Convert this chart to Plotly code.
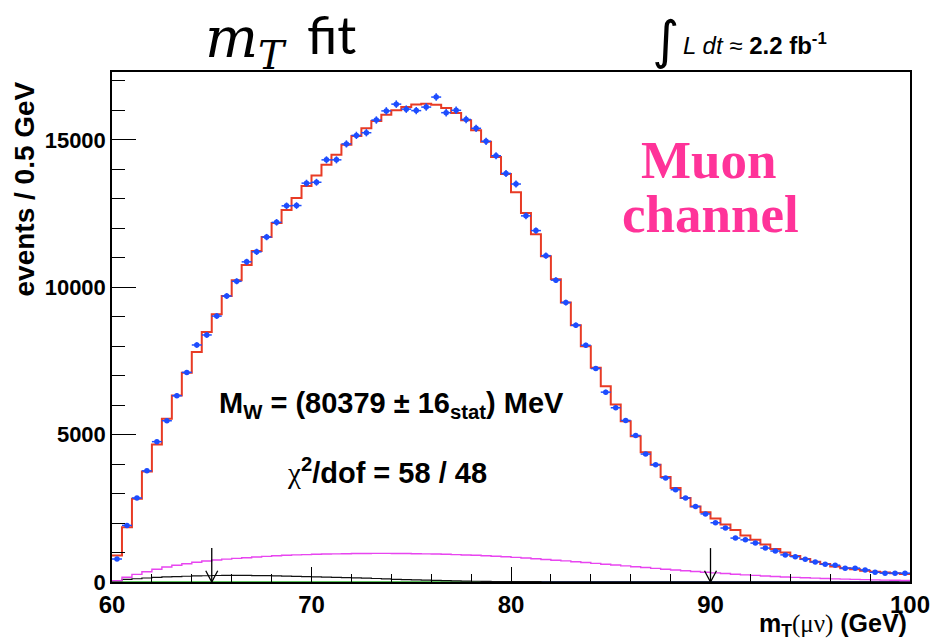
import numpy as np
import plotly.graph_objects as go

# ---- binning: 0.5 GeV bins from 60 to 100 GeV ----
bin_lo, bin_hi, bin_w = 60.0, 100.0, 0.5

# observed events per bin
data_counts = [
    780, 1920, 2850, 3770, 4760, 5470, 6320, 7110, 8040, 8380,
    9020, 9700, 10200, 10860, 11200, 11700, 12200, 12760, 12770, 13530,
    13560, 14320, 14320, 14860, 15150, 15240, 15670, 15980, 16210, 16040,
    15990, 16110, 16450, 15920, 16000, 15690, 15390, 14950, 14460, 13860,
    13500, 12420, 11920, 11070, 10240, 9480, 8710, 8030, 7240, 6440,
    5910, 5480, 4970, 4340, 3980, 3530, 3130, 2850, 2560, 2310,
    2010, 1830, 1490, 1430, 1320, 1150, 1050, 920, 860, 770,
    680, 600, 570, 470, 470, 410, 330, 300, 300, 300,
]

# best-fit template (signal + backgrounds)
fit_counts = [
    900, 1860, 2820, 3750, 4660, 5540, 6330, 7100, 7800, 8480,
    9080, 9700, 10240, 10750, 11230, 11700, 12180, 12620, 13030, 13430,
    13790, 14150, 14490, 14830, 15130, 15390, 15640, 15850, 16000, 16110,
    16200, 16220, 16190, 16080, 15910, 15660, 15320, 14930, 14420, 13840,
    13220, 12520, 11800, 11050, 10270, 9480, 8710, 8000, 7270, 6640,
    6020, 5450, 4940, 4400, 3980, 3560, 3190, 2850, 2560, 2370,
    2150, 1950, 1760, 1580, 1430, 1270, 1120, 1000, 880, 780,
    690, 610, 530, 470, 430, 385, 345, 320, 300, 275,
]

# magenta background component
bkg_magenta = [
    45, 160, 260, 350, 430, 510, 570, 620, 670, 710,
    745, 775, 800, 825, 850, 870, 890, 905, 920, 930,
    940, 948, 955, 960, 965, 968, 970, 970, 968, 965,
    960, 955, 948, 940, 930, 918, 905, 890, 872, 855,
    835, 812, 790, 765, 740, 715, 688, 660, 632, 604,
    575, 547, 518, 490, 462, 435, 408, 382, 357, 332,
    308, 286, 264, 243, 224, 205, 188, 172, 157, 143,
    130, 118, 107, 97, 88, 79, 71, 64, 58, 52,
]

# black background component
bkg_black = [
    40, 90, 110, 135, 160, 175, 185, 195, 205, 212,
    220, 225, 225, 222, 218, 215, 210, 200, 190, 180,
    172, 165, 157, 150, 140, 130, 118, 105, 92, 82,
    72, 62, 52, 45, 38, 32, 26, 21, 17, 14,
    12, 11, 10, 9, 8, 8, 7, 7, 6, 6,
    5, 5, 5, 4, 4, 4, 4, 3, 3, 3,
    3, 3, 3, 2, 2, 2, 2, 2, 2, 2,
    2, 2, 2, 2, 2, 2, 2, 2, 2, 2,
]

# small components lying along the axis
bkg_green_edges = [60, 70, 80, 81]
bkg_green = [12, 10, 8]
bkg_blue_edges = [60, 80, 100]
bkg_blue = [6, 5]

# fit range markers
fit_window = [65, 90]
arrow_top = 1150

edges = np.arange(bin_lo, bin_hi + bin_w / 2, bin_w)
centers = edges[:-1] + bin_w / 2
data = np.array(data_counts, dtype=float)


def step_xy(edge_list, vals):
    return list(edge_list), list(vals) + [vals[-1]]


# ---- plot frame in pixels ----
W, H = 930, 643
L_PX, R_PX, T_PX, B_PX = 112, 910, 72, 582
Y_MAX = 17300


def px(x):
    return (x - L_PX) / (R_PX - L_PX)


def py(y):
    return (B_PX - y) / (B_PX - T_PX)


fig = go.Figure()

sx, sy = step_xy(bkg_blue_edges, bkg_blue)
fig.add_trace(go.Scatter(x=sx, y=sy, mode="lines", line=dict(color="#4a6fd0", width=1.5, shape="hv"),
                         hoverinfo="skip", showlegend=False))
sx, sy = step_xy(bkg_green_edges, bkg_green)
fig.add_trace(go.Scatter(x=sx, y=sy, mode="lines", line=dict(color="#58c058", width=1.2, shape="hv"),
                         hoverinfo="skip", showlegend=False))
sx, sy = step_xy(edges, bkg_black)
fig.add_trace(go.Scatter(x=sx, y=sy, mode="lines", line=dict(color="#111111", width=1.2, shape="hv"),
                         hoverinfo="skip", showlegend=False))
sx, sy = step_xy(edges, bkg_magenta)
fig.add_trace(go.Scatter(x=sx, y=sy, mode="lines", line=dict(color="#e845f0", width=1.4, shape="hv"),
                         hoverinfo="skip", showlegend=False))

# fit-range arrows (open V heads)
head_dx, head_dy = 0.3, 380
for xa in fit_window:
    fig.add_trace(go.Scatter(x=[xa, xa, None, xa - head_dx, xa, xa + head_dx],
                             y=[arrow_top, 0, None, head_dy, 0, head_dy],
                             mode="lines", line=dict(color="black", width=1.3),
                             hoverinfo="skip", showlegend=False))

# fit histogram
sx, sy = step_xy(edges, fit_counts)
fig.add_trace(go.Scatter(x=sx, y=sy, mode="lines", line=dict(color="#e83b25", width=2, shape="hv"),
                         hoverinfo="skip", showlegend=False))

# data points with statistical errors
fig.add_trace(go.Scatter(
    x=centers, y=data, mode="markers",
    marker=dict(color="#1d4dff", size=5.5, symbol="circle"),
    error_x=dict(type="constant", value=bin_w / 2, color="#1d4dff", thickness=1.5, width=0),
    error_y=dict(type="data", array=np.sqrt(data), color="#1d4dff", thickness=1.5, width=0),
    showlegend=False,
))

SANS = "Liberation Sans, Arial, sans-serif"

fig.update_layout(
    width=W, height=H,
    margin=dict(l=L_PX, r=W - R_PX, t=T_PX, b=H - B_PX, pad=0, autoexpand=False),
    paper_bgcolor="white", plot_bgcolor="white",
    xaxis=dict(range=[bin_lo, bin_hi], showgrid=False, zeroline=False, automargin=False,
               showline=True, linecolor="black", linewidth=1.5, mirror=True,
               ticks="inside", ticklen=15, tickwidth=1.3, tickcolor="black",
               tickvals=[60, 70, 80, 90, 100], ticktext=["60", "70", "80", "90", "100"],
               ticklabeloverflow="allow",
               minor=dict(ticks="inside", ticklen=8, tickwidth=1.2, tickcolor="black", dtick=2, tick0=60, showgrid=False),
               tickfont=dict(family=SANS, size=24, color="black", weight="bold")),
    yaxis=dict(range=[0, Y_MAX], showgrid=False, zeroline=False, automargin=False,
               showline=True, linecolor="black", linewidth=1.5, mirror=True,
               ticks="inside", ticklen=24, tickwidth=1.3, tickcolor="black",
               tickvals=[0, 5000, 10000, 15000], ticktext=["0", "5000", "10000", "15000"],
               ticklabeloverflow="allow",
               minor=dict(ticks="inside", ticklen=13, tickwidth=1.2, tickcolor="black", dtick=1000, tick0=0, showgrid=False),
               tickfont=dict(family=SANS, size=22, color="black", weight="bold")),
)

ann = []
# axis titles
ann.append(dict(x=px(24), y=py(80), xref="paper", yref="paper", xanchor="center", yanchor="top",
                text="events / 0.5 GeV", textangle=-90, showarrow=False,
                font=dict(family=SANS, size=28, color="black", weight="bold")))
ann.append(dict(x=px(909), y=py(643), xref="paper", yref="paper", xanchor="right", yanchor="bottom",
                text="m<sub>T</sub><span style=\"font-family:'Liberation Serif';font-weight:normal\">(\u03bc\u03bd)</span> (GeV)",
                showarrow=False,
                font=dict(family=SANS, size=25, color="black", weight="bold")))
# heading
ann.append(dict(x=px(203), y=py(42), xref="paper", yref="paper", xanchor="left", yanchor="middle",
                text="<i>m</i><sub><i>T</i></sub>", showarrow=False,
                font=dict(family="DejaVu Serif", size=56, color="black")))
ann.append(dict(x=px(305), y=py(33), xref="paper", yref="paper", xanchor="left", yanchor="middle",
                text="fit", showarrow=False,
                font=dict(family="Lato, Open Sans, sans-serif", size=53, color="black")))
# luminosity
ann.append(dict(x=px(665), y=py(40), xref="paper", yref="paper", xanchor="center", yanchor="middle",
                text="\u222b", showarrow=False,
                font=dict(family="DejaVu Sans", size=52, color="black")))
ann.append(dict(x=px(681), y=py(44), xref="paper", yref="paper", xanchor="left", yanchor="middle",
                text="<i>L dt</i> \u2248 <b>2.2 fb<sup>-1</sup></b>", showarrow=False,
                font=dict(family=SANS, size=24, color="black")))
# channel label
ann.append(dict(x=px(708), y=py(160), xref="paper", yref="paper", xanchor="center", yanchor="middle",
                text="Muon", showarrow=False,
                font=dict(family="Liberation Serif, serif", size=53, color="#ff3399", weight="bold")))
ann.append(dict(x=px(710), y=py(214), xref="paper", yref="paper", xanchor="center", yanchor="middle",
                text="channel", showarrow=False,
                font=dict(family="Liberation Serif, serif", size=53, color="#ff3399", weight="bold")))
# fit results
ann.append(dict(x=px(391), y=py(405), xref="paper", yref="paper", xanchor="center", yanchor="middle",
                text="M<sub>W</sub> = (80379 \u00b1 16<sub>stat</sub>) MeV", showarrow=False,
                font=dict(family=SANS, size=29, color="black", weight="bold")))
ann.append(dict(x=px(387), y=py(471), xref="paper", yref="paper", xanchor="center", yanchor="middle",
                text="<span style=\"font-family:'Liberation Serif';font-weight:normal\">\u03c7</span><sup>2</sup>/dof = 58 / 48",
                showarrow=False,
                font=dict(family=SANS, size=29, color="black", weight="bold")))

fig.update_layout(annotations=ann)

fig.write_html("out.html", include_plotlyjs=True)
